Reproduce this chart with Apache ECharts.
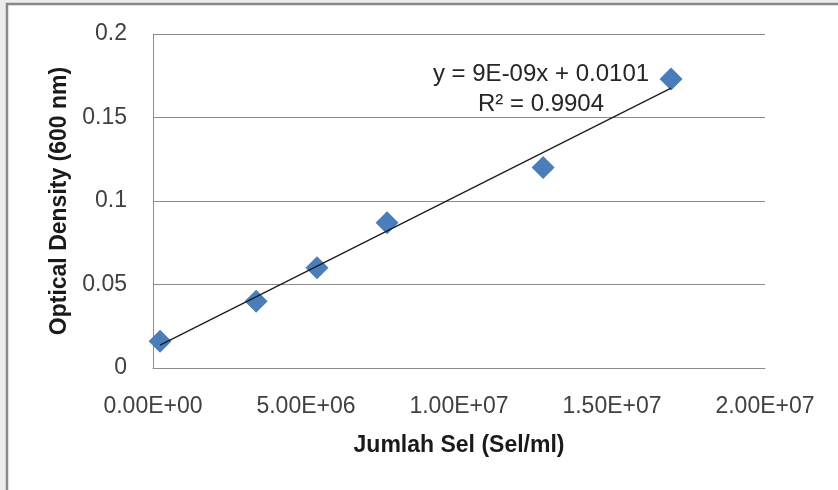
<!DOCTYPE html>
<html>
<head>
<meta charset="utf-8">
<script src="https://cdn.jsdelivr.net/npm/echarts@6/dist/echarts.min.js"></script>
<style>
html,body{margin:0;padding:0;background:#ececec;}
#c{width:838px;height:490px;}
</style>
</head>
<body>
<div id="c"></div>
<script>
// Data
var cellCounts = [230000, 3370000, 5360000, 7650000, 12750000, 16930000];
var opticalDensity = [0.016, 0.040, 0.060, 0.087, 0.120, 0.173];
var xTickLabels = ['0.00E+00', '5.00E+06', '1.00E+07', '1.50E+07', '2.00E+07'];
var yTickLabels = ['0', '0.05', '0.1', '0.15', '0.2'];
var equationText = 'y = 9E-09x + 0.0101';
var r2Text = 'R\u00B2 = 0.9904';

// Least-squares trendline from the data
var n = cellCounts.length, sx = 0, sy = 0, sxx = 0, sxy = 0;
for (var i = 0; i < n; i++) {
  sx += cellCounts[i]; sy += opticalDensity[i];
  sxx += cellCounts[i] * cellCounts[i]; sxy += cellCounts[i] * opticalDensity[i];
}
var slope = (n * sxy - sx * sy) / (n * sxx - sx * sx);
var intercept = (sy - slope * sx) / n;
var xMin = Math.min.apply(null, cellCounts), xMax = Math.max.apply(null, cellCounts);
var trend = [[xMin, slope * xMin + intercept], [xMax, slope * xMax + intercept]];

var scatterData = cellCounts.map(function (x, i) { return [x, opticalDensity[i]]; });

var chart = echarts.init(document.getElementById('c'), null, {renderer: 'canvas'});
var FONT = '"Liberation Sans", Arial, sans-serif';
chart.setOption({
  animation: false,
  backgroundColor: '#ececec',
  graphic: [
    {type: 'rect', z: -10, shape: {x: 7, y: 4, width: 840, height: 500},
     style: {fill: '#ffffff', stroke: '#888888', lineWidth: 2.5}},
    {type: 'text', z: 10, x: 541, y: 74, style: {text: equationText, align: 'center', verticalAlign: 'middle', font: '24px ' + FONT, fill: '#262626'}},
    {type: 'text', z: 10, x: 541, y: 104, style: {text: r2Text, align: 'center', verticalAlign: 'middle', font: '24px ' + FONT, fill: '#262626'}}
  ],
  grid: {left: 153, right: 73, top: 34, bottom: 122, containLabel: false},
  xAxis: {
    type: 'value', min: 0, max: 20000000, interval: 5000000,
    name: 'Jumlah Sel (Sel/ml)', nameLocation: 'middle', nameGap: 66,
    nameTextStyle: {fontFamily: FONT, fontSize: 23, fontWeight: 'bold', color: '#1a1a1a'},
    axisLine: {show: true, lineStyle: {color: '#8c8c8c', width: 1}},
    axisTick: {show: false},
    splitLine: {show: false},
    axisLabel: {margin: 27, fontFamily: FONT, fontSize: 23, color: '#404040',
      formatter: function (v) { return xTickLabels[Math.round(v / 5000000)]; }}
  },
  yAxis: {
    type: 'value', min: 0, max: 0.2, interval: 0.05,
    name: 'Optical Density (600 nm)', nameLocation: 'middle', nameGap: 52, nameRotate: 90,
    nameTextStyle: {fontFamily: FONT, fontSize: 23, fontWeight: 'bold', color: '#1a1a1a'},
    axisLine: {show: true, lineStyle: {color: '#8c8c8c', width: 1}},
    axisTick: {show: false},
    splitLine: {show: true, lineStyle: {color: '#8c8c8c', width: 1}},
    axisLabel: {margin: 26, fontFamily: FONT, fontSize: 23, color: '#404040',
      formatter: function (v) { return yTickLabels[Math.round(v / 0.05)]; }}
  },
  series: [
    {type: 'line', data: trend, symbol: 'none', z: 3,
     lineStyle: {color: '#1a1a1a', width: 1.2}, silent: true},
    {type: 'scatter', data: scatterData, symbol: 'diamond', symbolSize: 23, z: 2,
     itemStyle: {color: '#4a7ebb', opacity: 1}}
  ]
});
</script>
</body>
</html>
